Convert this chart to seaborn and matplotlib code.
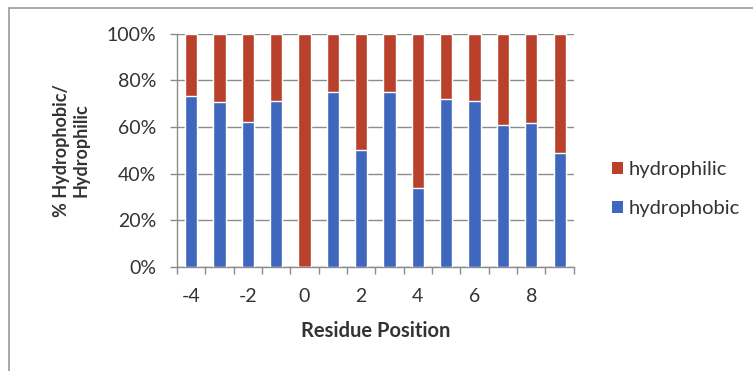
import matplotlib
matplotlib.use("Agg")
import matplotlib.pyplot as plt
from matplotlib.patches import Patch, Rectangle
import seaborn as sns
import pandas as pd

# Residue positions around the site and share of hydrophobic residues (%)
positions = [-4, -3, -2, -1, 0, 1, 2, 3, 4, 5, 6, 7, 8, 9]
hydrophobic = [73.5, 70.5, 62, 71, 0, 75, 50, 75, 34, 72, 71, 61, 61.5, 49]
hydrophilic = [100 - v for v in hydrophobic]
tick_labels = ["-4", "-2", "0", "2", "4", "6", "8"]

BLUE = "#3E67BD"
RED = "#B9412C"
GRID = "#8C8C8C"
TEXT = "#333333"

sns.set_theme(style="white")
plt.rcParams["font.family"] = ["Lato", "DejaVu Sans"]

df = pd.DataFrame({
    "position": [str(p) for p in positions],
    "hydrophobic": hydrophobic,
    "total": [a + b for a, b in zip(hydrophobic, hydrophilic)],
})
order = [str(p) for p in positions]

fig = plt.figure(figsize=(7.53, 3.71), dpi=100)
ax = fig.add_axes([0.235, 0.281, 0.527, 0.628])

# stacked bars: full height in red, hydrophobic part in blue on top of it
sns.barplot(data=df, x="position", y="total", order=order, color=RED,
            saturation=1, width=0.43, ax=ax, zorder=3)
sns.barplot(data=df, x="position", y="hydrophobic", order=order, color=BLUE,
            saturation=1, width=0.43, ax=ax, zorder=3)

ax.set_xlim(-0.5, len(positions) - 0.5)
ax.set_ylim(0, 100)
ax.set_yticks([0, 20, 40, 60, 80, 100])
ax.set_yticklabels([f"{v}%" for v in [0, 20, 40, 60, 80, 100]])
ax.yaxis.grid(True, color=GRID, linewidth=1.0, zorder=0)
ax.set_axisbelow(True)

ax.set_xticks(range(0, len(positions), 2))
ax.set_xticklabels(tick_labels)
ax.set_xticks([i - 0.5 for i in range(len(positions) + 1)], minor=True)
ax.tick_params(axis="x", which="major", length=0, pad=15,
               labelsize=14, labelcolor=TEXT)
ax.tick_params(axis="x", which="minor", length=5, width=1, color=GRID,
               direction="out", bottom=True)
ax.tick_params(axis="y", which="major", length=5, width=1, color=GRID,
               direction="out", left=True, pad=10, labelsize=14,
               labelcolor=TEXT)

for side in ["top", "right"]:
    ax.spines[side].set_visible(False)
for side in ["left", "bottom"]:
    ax.spines[side].set_color(GRID)
    ax.spines[side].set_linewidth(1.0)

ax.set_xlabel("Residue Position", fontsize=14.5, fontweight="bold",
              color=TEXT, labelpad=12)
ax.set_ylabel("% Hydrophobic/\nHydrophilic", fontsize=13, fontweight="bold",
              color=TEXT, labelpad=12, linespacing=1.2)

handles = [Patch(facecolor=RED, edgecolor="none", label="hydrophilic"),
           Patch(facecolor=BLUE, edgecolor="none", label="hydrophobic")]
fig.legend(handles=handles, loc="center left", bbox_to_anchor=(0.799, 0.49),
           frameon=False, fontsize=14.5, labelspacing=1.12, handlelength=0.55,
           handleheight=0.55, handletextpad=0.3, labelcolor=TEXT,
           borderpad=0)

# chart frame running off the right and bottom edges
fig.patches.append(Rectangle((0.012, -0.1), 1.1, 1.078, transform=fig.transFigure,
                             fill=False, edgecolor="#9A9A9A", linewidth=1.2))

fig.savefig("out.png", dpi=100, facecolor="white")
